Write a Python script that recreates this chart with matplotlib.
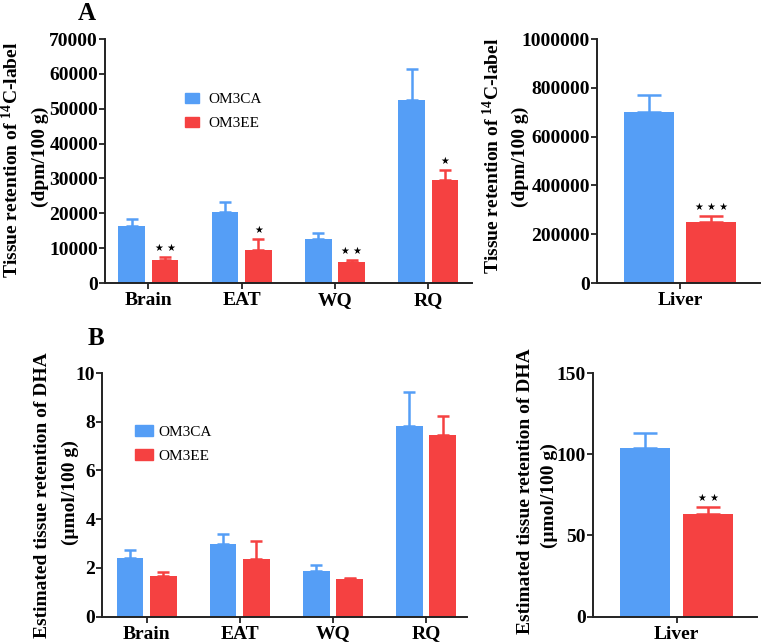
import matplotlib
matplotlib.use("Agg")
import matplotlib.pyplot as plt
from matplotlib.ticker import FuncFormatter
import numpy as np

# ---------------- data ----------------
tissues = ["Brain", "EAT", "WQ", "RQ"]
liver = ["Liver"]
series = ["OM3CA", "OM3EE"]

# Panel A: 14C-label retention (dpm/100 g)
a_ca = [16300, 20300, 12600, 52500]
a_ca_err = [2100, 2800, 1800, 8800]
a_ee = [6700, 9500, 6000, 29500]
a_ee_err = [650, 3150, 570, 3000]
a_sig = ["★★", "★", "★★", "★"]

a_liver_ca = [699000]
a_liver_ca_err = [70000]
a_liver_ee = [252000]
a_liver_ee_err = [22000]
a_liver_sig = ["★★★"]

# Panel B: estimated DHA retention (µmol/100 g)
b_ca = [2.41, 2.99, 1.85, 7.82]
b_ca_err = [0.32, 0.41, 0.25, 1.40]
b_ee = [1.68, 2.37, 1.52, 7.47]
b_ee_err = [0.14, 0.75, 0.08, 0.77]
b_sig = ["", "", "", ""]

b_liver_ca = [103.6]
b_liver_ca_err = [9.6]
b_liver_ee = [62.9]
b_liver_ee_err = [4.3]
b_liver_sig = ["★★"]

label_a = ["Tissue retention of $^{14}$C-label", "(dpm/100 g)"]
label_b = ["Estimated tissue retention of DHA", "(μmol/100 g)"]

# ---------------- style ----------------
BLUE = "#559ef6"
RED = "#f54141"
SERIF = "Liberation Serif"
plt.rcParams["font.family"] = [SERIF, "DejaVu Serif"]
plt.rcParams["font.weight"] = "bold"
plt.rcParams["mathtext.default"] = "regular"

W, H = 762, 644
fig = plt.figure(figsize=(W / 100, H / 100), dpi=100)


def rect(x0, x1, yt, yb):
    return [x0 / W, 1 - yb / H, (x1 - x0) / W, (yb - yt) / H]


def style_axis(ax, ylim, ystep):
    for s in ["top", "right"]:
        ax.spines[s].set_visible(False)
    for s in ["left", "bottom"]:
        ax.spines[s].set_linewidth(1.4)
        ax.spines[s].set_color("#222222")
    ax.set_ylim(*ylim)
    ax.set_yticks(np.arange(ylim[0], ylim[1] + ystep / 2, ystep))
    ax.yaxis.set_major_formatter(FuncFormatter(lambda v, p: "%d" % round(v)))
    ax.tick_params(axis="both", direction="out", length=4.5, width=1.3,
                   color="#222222", labelsize=14)
    ax.tick_params(axis="y", pad=0.5)
    ax.tick_params(axis="x", pad=2)


def ylabel_lines(lines, xs, ys):
    for t, x, y in zip(lines, xs, ys):
        fig.text(x / W, 1 - y / H, t, rotation=90, ha="center", va="center",
                 fontsize=14, fontweight="bold")


def draw_bars(ax, cats, ca, ca_err, ee, ee_err, sig, width, off, capsize):
    x = np.arange(len(cats))
    ax.bar(x - off, ca, width, color=BLUE, zorder=2)
    ax.bar(x + off, ee, width, color=RED, zorder=2)
    ax.errorbar(x - off, ca, yerr=[np.zeros(len(ca)), ca_err], fmt="none",
                ecolor=BLUE, elinewidth=1.8, capsize=capsize, capthick=1.8, zorder=1)
    ax.errorbar(x + off, ee, yerr=[np.zeros(len(ee)), ee_err], fmt="none",
                ecolor=RED, elinewidth=1.8, capsize=capsize, capthick=1.8, zorder=1)
    for xi, v, e, s in zip(x, ee, ee_err, sig):
        if s:
            ax.annotate(" ".join(s) if len(s) > 1 else s, (xi + off, v + e),
                        xytext=(0, 3), textcoords="offset points",
                        ha="center", va="bottom", fontsize=7,
                        family=["DejaVu Sans"])
    ax.set_xticks(x)
    ax.set_xticklabels(cats)


legend_prop = {"family": SERIF, "size": 11, "weight": "normal"}
handles = [plt.Rectangle((0, 0), 1, 1, color=BLUE),
           plt.Rectangle((0, 0), 1, 1, color=RED)]

# ---------- Panel A left ----------
ax1 = fig.add_axes(rect(105, 472, 39, 283))
draw_bars(ax1, tissues, a_ca, a_ca_err, a_ee, a_ee_err, a_sig, 0.286, 0.179, 4)
ax1.set_xlim(-0.464, 3.469)
style_axis(ax1, (0, 70000), 10000)
ylabel_lines(label_a, [12, 40], [160, 157])
ax1.legend(handles, series, loc="upper left", bbox_to_anchor=(0.218, 0.78),
           frameon=False, prop=legend_prop, borderpad=0, borderaxespad=0,
           handlelength=0.92, handleheight=0.7, handletextpad=0.6,
           labelspacing=0.68)

# ---------- Panel A right (liver) ----------
ax2 = fig.add_axes(rect(597, 760, 39, 283))
draw_bars(ax2, liver, a_liver_ca, a_liver_ca_err, a_liver_ee, a_liver_ee_err,
          a_liver_sig, 0.613, 0.383, 8.7)
ax2.set_xlim(-1.018, 0.982)
style_axis(ax2, (0, 1000000), 200000)
ylabel_lines(label_a, [493, 520], [156, 157])

# ---------- Panel B left ----------
ax3 = fig.add_axes(rect(102, 467, 373, 616.5))
draw_bars(ax3, tissues, b_ca, b_ca_err, b_ee, b_ee_err, b_sig, 0.286, 0.179, 4)
ax3.set_xlim(-0.480, 3.440)
style_axis(ax3, (0, 10), 2)
ylabel_lines(label_b, [43, 70], [495, 493])
ax3.legend(handles, series, loc="upper left", bbox_to_anchor=(0.090, 0.787),
           frameon=False, prop=legend_prop, borderpad=0, borderaxespad=0,
           handlelength=1.2, handleheight=0.7, handletextpad=0.35,
           labelspacing=0.68)

# ---------- Panel B right (liver) ----------
ax4 = fig.add_axes(rect(593, 757, 373, 616.5))
draw_bars(ax4, liver, b_liver_ca, b_liver_ca_err, b_liver_ee, b_liver_ee_err,
          b_liver_sig, 0.613, 0.383, 8.7)
ax4.set_xlim(-1.02, 0.98)
style_axis(ax4, (0, 150), 50)
ylabel_lines(label_b, [525, 549], [491, 496])

# panel letters
fig.text(87 / W, 1 - 14 / H, "A", fontsize=18, fontweight="bold",
         ha="center", va="center")
fig.text(96 / W, 1 - 338 / H, "B", fontsize=18, fontweight="bold",
         ha="center", va="center")

fig.savefig("out.png", dpi=100)
